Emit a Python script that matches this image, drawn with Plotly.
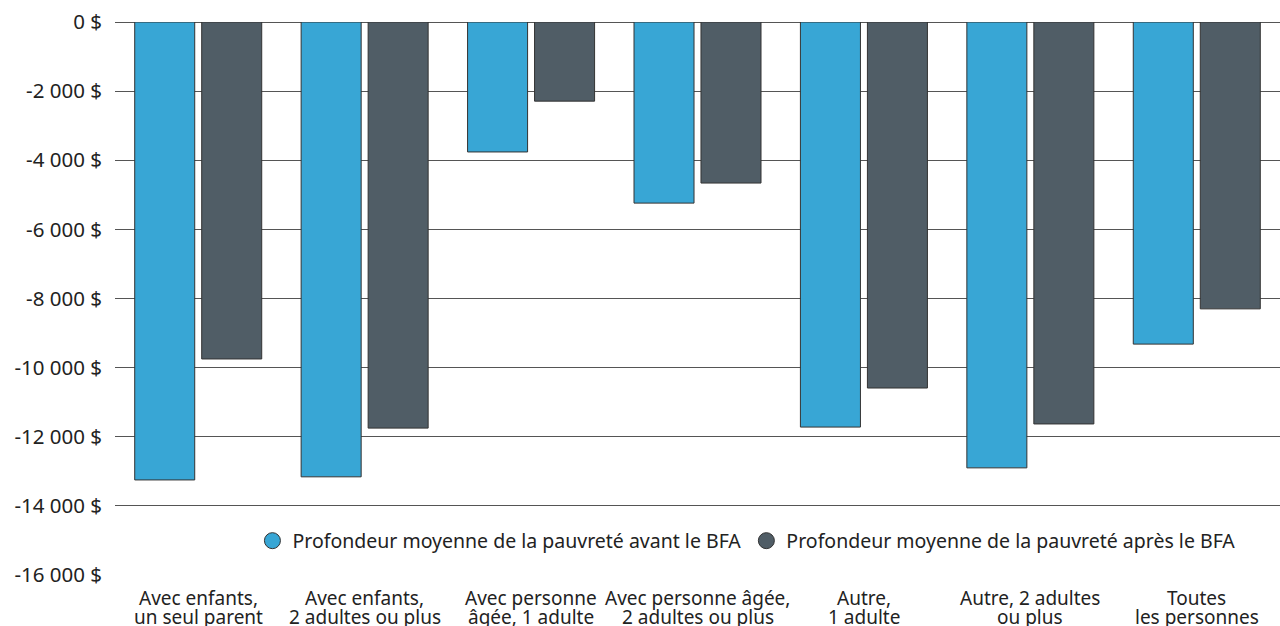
import plotly.graph_objects as go

# Profondeur moyenne de la pauvreté selon le type de famille
categories = [
    "Avec enfants, un seul parent",
    "Avec enfants, 2 adultes ou plus",
    "Avec personne âgée, 1 adulte",
    "Avec personne âgée, 2 adultes ou plus",
    "Autre, 1 adulte",
    "Autre, 2 adultes ou plus",
    "Toutes les personnes",
]
# axis labels, split over two lines
label_line1 = ["Avec enfants,", "Avec enfants,", "Avec personne", "Avec personne âgée,",
               "Autre,", "Autre, 2 adultes", "Toutes"]
label_line2 = ["un seul parent", "2 adultes ou plus", "âgée, 1 adulte", "2 adultes ou plus",
               "1 adulte", "ou plus", "les personnes"]

avant_bfa = [-13250, -13160, -3760, -5240, -11720, -12900, -9320]
apres_bfa = [-9750, -11750, -2290, -4660, -10590, -11630, -8300]

series_names = [
    "Profondeur moyenne de la pauvreté avant le BFA",
    "Profondeur moyenne de la pauvreté après le BFA",
]
series_colors = ["#38a6d5", "#505d66"]

tick_vals = [0, -2000, -4000, -6000, -8000, -10000, -12000, -14000, -16000]
tick_text = ["0 $", "-2 000 $", "-4 000 $", "-6 000 $", "-8 000 $",
             "-10 000 $", "-12 000 $", "-14 000 $", "-16 000 $"]

FONT = "Noto Sans"
TEXT = "#222222"
outline = dict(color="#333333", width=1)

fig = go.Figure()
for name, values, color in zip(series_names, [avant_bfa, apres_bfa], series_colors):
    fig.add_trace(go.Bar(
        x=categories, y=values, name=name,
        marker=dict(color=color, line=outline),
        showlegend=False,
    ))
    # circular legend keys
    fig.add_trace(go.Scatter(
        x=[None], y=[None], mode="markers", name=name,
        marker=dict(symbol="circle", size=20, color=color, line=outline),
    ))

# two-line category labels with tight line spacing
for cat, l1, l2 in zip(categories, label_line1, label_line2):
    for text, ypos in ((l1, -0.0416), (l2, -0.0760)):
        fig.add_annotation(
            x=cat, xref="x", y=ypos, yref="paper", text=text, showarrow=False,
            xanchor="center", yanchor="middle",
            font=dict(family=FONT, size=19, color=TEXT),
        )

fig.update_layout(
    width=1280, height=626,
    margin=dict(l=115, r=0, t=22, b=51),
    paper_bgcolor="white", plot_bgcolor="white",
    barmode="group", bargap=0.195, bargroupgap=0.104,
    font=dict(family=FONT, size=19, color=TEXT),
    legend=dict(
        orientation="h", x=0.542, y=0.0615, xanchor="center", yanchor="middle",
        bgcolor="rgba(255,255,255,0)", font=dict(family=FONT, size=19.5, color=TEXT),
        itemsizing="trace",
    ),
)
fig.update_xaxes(showgrid=False, showline=False, ticks="", showticklabels=False)
fig.update_yaxes(
    range=[-16000, 0], tickvals=tick_vals, ticktext=tick_text,
    showgrid=True, gridcolor="#555555", gridwidth=1,
    zeroline=True, zerolinecolor="#555555", zerolinewidth=1,
    showline=False, ticks="", ticklabelstandoff=12,
    tickfont=dict(family=FONT, size=20.5, color=TEXT),
)

fig.write_html("out.html")
